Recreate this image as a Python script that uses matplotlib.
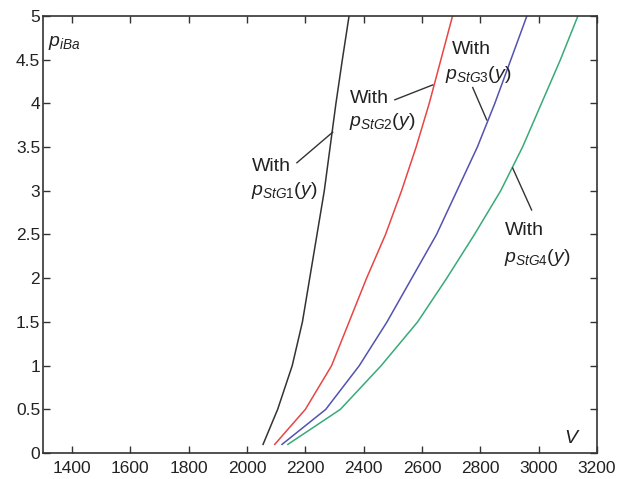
import matplotlib
matplotlib.use("Agg")
import matplotlib.pyplot as plt

plt.rcParams["font.family"] = ["Liberation Sans", "DejaVu Sans"]
plt.rcParams["mathtext.fontset"] = "custom"
plt.rcParams["mathtext.rm"] = "Liberation Sans"
plt.rcParams["mathtext.it"] = "Liberation Sans:italic"

# pressure levels p_iBa and the V values
p_levels = [0.1, 0.5, 1.0, 1.5, 2.0, 2.5, 3.0, 3.5, 4.0, 4.5, 5.0]
v_stg1 = [2055, 2105, 2155, 2190, 2215, 2240, 2265, 2285, 2305, 2327, 2350]
v_stg2 = [2095, 2200, 2290, 2350, 2410, 2475, 2530, 2580, 2625, 2665, 2705]
v_stg3 = [2120, 2270, 2385, 2480, 2565, 2650, 2720, 2790, 2850, 2905, 2960]
v_stg4 = [2140, 2320, 2460, 2585, 2685, 2780, 2870, 2945, 3010, 3075, 3135]

x_ticks = [1400, 1600, 1800, 2000, 2200, 2400, 2600, 2800, 3000, 3200]
y_ticks = [0, 0.5, 1, 1.5, 2, 2.5, 3, 3.5, 4, 4.5, 5]
y_tick_labels = ["0", "0.5", "1", "1.5", "2", "2.5", "3", "3.5", "4", "4.5", "5"]

curves = [
    (v_stg1, "#333333"),
    (v_stg2, "#e84545"),
    (v_stg3, "#5252b0"),
    (v_stg4, "#38aa78"),
]

# label placement: ("With" x, y), (formula x, y), leader start, leader end
labels = {
    "1": ((2016, 3.28), (2014, 3.00), (2171, 3.32), (2294, 3.67)),
    "2": ((2352, 4.06), (2350, 3.79), (2507, 4.04), (2637, 4.21)),
    "3": ((2702, 4.61), (2678, 4.33), (2774, 4.18), (2822, 3.81)),
    "4": ((2884, 2.55), (2882, 2.24), (2976, 2.78), (2911, 3.26)),
}

fig = plt.figure(figsize=(6.31, 4.79), dpi=100)
ax = fig.add_axes([0.068, 0.054, 0.878, 0.913])

for v, color in curves:
    ax.plot(v, p_levels, color=color, linewidth=1.1)

for idx, (w_pos, f_pos, p0, p1) in labels.items():
    ax.plot([p0[0], p1[0]], [p0[1], p1[1]], color="#333333", linewidth=1.0)
    ax.text(w_pos[0], w_pos[1], "With", fontsize=14, ha="left", va="center", color="#222222")
    ax.text(f_pos[0], f_pos[1], rf"$p_{{\mathit{{StG{idx}}}}}\mathit{{(y)}}$", fontsize=14,
            ha="left", va="center", color="#222222")

ax.text(1318, 4.69, r"$p_{iBa}$", fontsize=14, ha="left", va="center", color="#222222")
ax.text(3088, 0.17, r"$V$", fontsize=14, ha="left", va="center", color="#222222")

ax.set_xlim(1300, 3200)
ax.set_ylim(0, 5)
ax.set_xticks(x_ticks)
ax.set_yticks(y_ticks)
ax.set_yticklabels(y_tick_labels)
ax.tick_params(direction="in", length=5, width=1.0, top=True, right=True,
               labelsize=12.5, colors="#333333", labelcolor="#222222")
ax.tick_params(axis="y", pad=2)
ax.tick_params(axis="x", pad=6)
for spine in ax.spines.values():
    spine.set_color("#333333")
    spine.set_linewidth(1.2)

fig.savefig("out.png", dpi=100)
